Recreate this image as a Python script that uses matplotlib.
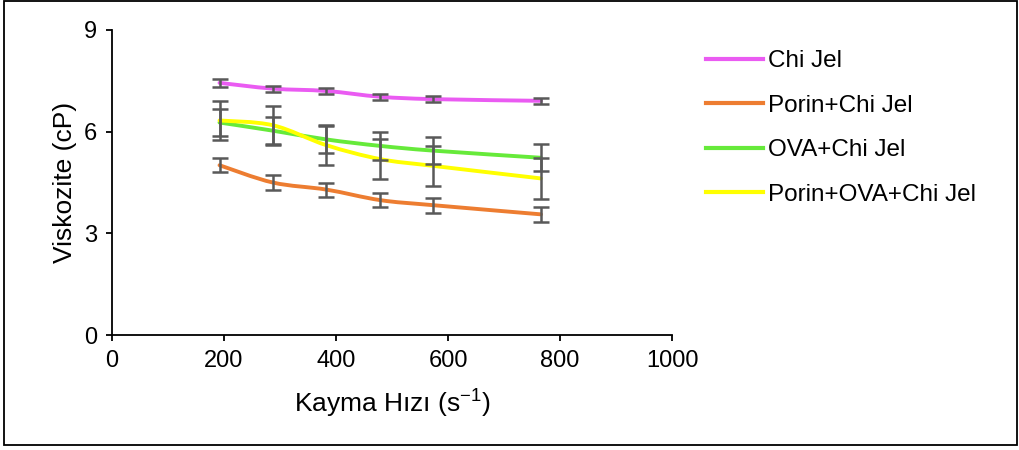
import numpy as np
import matplotlib.pyplot as plt
from matplotlib.path import Path
from matplotlib.patches import PathPatch, Rectangle
from matplotlib.lines import Line2D

plt.rcParams['font.family'] = ['Liberation Sans', 'DejaVu Sans']

# shear rate (s-1) and viscosity (cP) with standard deviations
shear = [192, 287, 383, 479, 574, 766]

chi = [7.44, 7.27, 7.20, 7.03, 6.96, 6.91]
chi_err = [0.11, 0.09, 0.09, 0.09, 0.09, 0.09]

porin = [5.01, 4.50, 4.29, 3.98, 3.83, 3.56]
porin_err = [0.20, 0.21, 0.21, 0.21, 0.22, 0.22]

ova = [6.27, 6.03, 5.77, 5.58, 5.44, 5.23]
ova_err = [0.40, 0.40, 0.39, 0.41, 0.39, 0.40]

porin_ova = [6.33, 6.19, 5.60, 5.19, 4.99, 4.62]
porin_ova_err = [0.58, 0.58, 0.59, 0.59, 0.59, 0.60]

labels = ['Chi Jel', 'Porin+Chi Jel', 'OVA+Chi Jel', 'Porin+OVA+Chi Jel']
colors = ['#EA5BF2', '#ED7D31', '#66EA3A', '#FFFF00']


def smooth_path(x, y, tension=1/6):
    # cubic bezier through each point (Catmull-Rom style control points)
    x = np.asarray(x, float)
    y = np.asarray(y, float)
    verts = [(x[0], y[0])]
    codes = [Path.MOVETO]
    n = len(x)
    for i in range(n - 1):
        i0 = max(i - 1, 0)
        i3 = min(i + 2, n - 1)
        c1 = (x[i] + (x[i + 1] - x[i0]) * tension, y[i] + (y[i + 1] - y[i0]) * tension)
        c2 = (x[i + 1] - (x[i3] - x[i]) * tension, y[i + 1] - (y[i3] - y[i]) * tension)
        verts += [c1, c2, (x[i + 1], y[i + 1])]
        codes += [Path.CURVE4] * 3
    return Path(verts, codes)


fig = plt.figure(figsize=(10.2, 4.5), dpi=100)
ax = fig.add_axes([112 / 1020, 115 / 450, 560 / 1020, 305 / 450])

series = [(chi, chi_err), (porin, porin_err), (ova, ova_err), (porin_ova, porin_ova_err)]
for (vals, errs), col in zip(series, colors):
    ax.add_patch(PathPatch(smooth_path(shear, vals), facecolor='none', edgecolor=col,
                           lw=2.8, capstyle='round', zorder=3))
    ax.errorbar(shear, vals, yerr=errs, fmt='none', ecolor='#595959', elinewidth=1.8,
                capsize=5.5, capthick=1.8, zorder=4)

ax.set_xlim(0, 1000)
ax.set_ylim(0, 9)
ax.set_xticks(range(0, 1001, 200))
ax.set_yticks([0, 3, 6, 9])
for s in ['top', 'right']:
    ax.spines[s].set_visible(False)
for s in ['left', 'bottom']:
    ax.spines[s].set_linewidth(1.3)
ax.tick_params(direction='out', length=4.5, width=1.3, labelsize=17, pad=6)

ax.set_xlabel('Kayma Hızı (s$\\mathregular{^{-1}}$)', fontsize=19)
ax.set_ylabel('Viskozite (cP)', fontsize=19)
ax.xaxis.set_label_coords(0.5, -0.172)
ax.yaxis.set_label_coords(-0.0625, 0.5)

handles = [Line2D([], [], color=c, lw=3) for c in colors]
fig.legend(handles, labels, loc='upper left', bbox_to_anchor=(684 / 1020, 1 - 28.5 / 450),
           frameon=False, fontsize=17.5, handlelength=2.36, handletextpad=0.21,
           labelspacing=0.92)

# outer frame
fig.add_artist(Rectangle((0.004, 0.012), 0.993, 0.985, transform=fig.transFigure,
                         fill=False, edgecolor='black', lw=1.3))

fig.savefig('out.png', dpi=100)
